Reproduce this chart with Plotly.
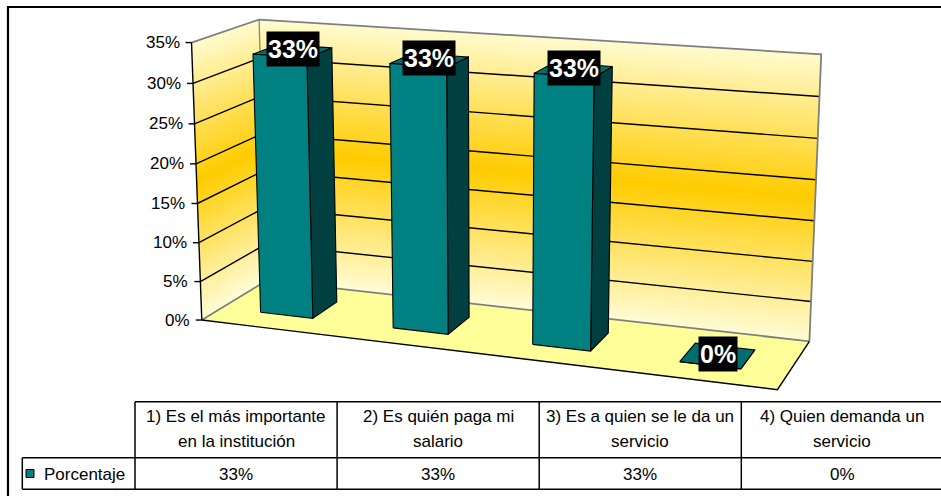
import numpy as np
import plotly.graph_objects as go

# ---------------------------------------------------------------- data
categories = [
    "1) Es el más importante\nen la institución",
    "2) Es quién paga mi\nsalario",
    "3) Es a quien se le da un\nservicio",
    "4) Quien demanda un\nservicio",
]
series_name = "Porcentaje"
values = [0.33, 0.33, 0.33, 0.0]
axis_ticks = [0.0, 0.05, 0.10, 0.15, 0.20, 0.25, 0.30, 0.35]
tick_labels = ["0%", "5%", "10%", "15%", "20%", "25%", "30%", "35%"]

# ---------------------------------------------------------------- style
W, H = 941, 496
FONT = "Liberation Sans, Arial, sans-serif"
BAR_FRONT = "#008080"
BAR_SIDE = "#004040"
BAR_TOP = "#006E6E"
FLOOR = "#FFFF99"
WALL_SCALE = [[0.0, "#FFFBCF"], [0.5, "#FFCC00"], [1.0, "#FFFCD6"]]
EDGE_GREY = "#7F7F7F"

VMAX = axis_ticks[-1]
NCAT = len(categories)
GAP_WIDTH = 1.5          # Excel gap width 150 %
BAR_W = 1.0 / (1.0 + GAP_WIDTH)
Z0, Z1 = 0.3, 0.7        # bar depth inside the floor (0 = front, 1 = back)

# world frame: x = category units, y = value, z = depth.
# The 3-D box of the plot is anchored to page pixels and a perspective
# camera is fitted to it (direct linear transform).
BOX_ANCHORS = [
    ((0, 0.00, 0), (202.7, 320.7)),
    ((0, 0.05, 0), (200.0, 281.0)),
    ((0, 0.10, 0), (199.0, 242.7)),
    ((0, 0.15, 0), (196.7, 203.3)),
    ((0, 0.20, 0), (195.7, 163.3)),
    ((0, 0.25, 0), (194.3, 124.3)),
    ((0, 0.30, 0), (193.3, 83.3)),
    ((0, 0.35, 0), (191.7, 43.3)),
    ((0, 0.35, 1), (259.3, 19.3)),
    ((4, 0.35, 1), (822.3, 54.0)),
    ((4, 0.30, 1), (818.3, 96.7)),
    ((4, 0.00, 1), (809.3, 341.7)),
    ((4, 0.00, 0), (777.7, 389.3)),
]
Y_SCALE = 10.0


def fit_camera(anchors):
    wpts = np.array([[a[0][0], a[0][1] * Y_SCALE, a[0][2]] for a in anchors], float)
    ipts = np.array([a[1] for a in anchors], float)
    mw, sw = wpts.mean(0), wpts.std()
    mi, si = ipts.mean(0), ipts.std()
    wn = (wpts - mw) / sw
    im = (ipts - mi) / si
    rows = []
    for (X, Y, Z), (u, v) in zip(wn, im):
        p = [X, Y, Z, 1.0]
        rows.append(p + [0, 0, 0, 0] + [-u * c for c in p])
        rows.append([0, 0, 0, 0] + p + [-v * c for c in p])
    _, _, vt = np.linalg.svd(np.array(rows))
    pn = vt[-1].reshape(3, 4)
    tw = np.array([[1 / sw, 0, 0, -mw[0] / sw],
                   [0, 1 / sw, 0, -mw[1] / sw],
                   [0, 0, 1 / sw, -mw[2] / sw],
                   [0, 0, 0, 1]])
    ti = np.array([[si, 0, mi[0]], [0, si, mi[1]], [0, 0, 1]])
    return ti @ pn @ tw


CAM = fit_camera(BOX_ANCHORS)


def proj(x, v, z):
    h = CAM @ np.array([x, v * Y_SCALE, z, 1.0])
    return h[0] / h[2], h[1] / h[2]


fig = go.Figure()


def polygon(pts3, fill=None, line_color=None, line_width=0.0, gradient=None):
    xy = [proj(*p) for p in pts3]
    xs = [p[0] for p in xy] + [xy[0][0]]
    ys = [p[1] for p in xy] + [xy[0][1]]
    kw = dict(x=xs, y=ys, mode="lines", fill="toself", hoverinfo="skip",
              line=dict(color=line_color or "rgba(0,0,0,0)", width=line_width))
    if gradient is not None:
        kw["fillgradient"] = gradient
    else:
        kw["fillcolor"] = fill
    fig.add_trace(go.Scatter(**kw))


def polyline(pts3, color, width):
    xy = [proj(*p) for p in pts3]
    fig.add_trace(go.Scatter(x=[p[0] for p in xy], y=[p[1] for p in xy], mode="lines",
                             hoverinfo="skip", line=dict(color=color, width=width)))


def wall_gradient(top_y, bottom_y):
    return dict(type="vertical", colorscale=WALL_SCALE, start=top_y, stop=bottom_y)


# ---------------------------------------------------------------- walls
N_BACK = 48
for k in range(N_BACK):
    xa = NCAT * k / N_BACK
    xb = min(NCAT, NCAT * (k + 1.5) / N_BACK)
    xm = 0.5 * (xa + xb)
    polygon([(xa, 0, 1), (xb, 0, 1), (xb, VMAX, 1), (xa, VMAX, 1)],
            gradient=wall_gradient(proj(xm, VMAX, 1)[1], proj(xm, 0, 1)[1]))

N_SIDE = 10
for k in range(N_SIDE):
    za = k / N_SIDE
    zb = min(1.0, (k + 1.5) / N_SIDE)
    zm = 0.5 * (za + zb)
    polygon([(0, 0, za), (0, 0, zb), (0, VMAX, zb), (0, VMAX, za)],
            gradient=wall_gradient(proj(0, VMAX, zm)[1], proj(0, 0, zm)[1]))

# floor
polygon([(0, 0, 0), (NCAT, 0, 0), (NCAT, 0, 1), (0, 0, 1)], fill=FLOOR)

# gridlines across both walls
for t in axis_ticks[1:-1]:
    polyline([(0, t, 0), (0, t, 1), (NCAT, t, 1)], "black", 1.4)

# wall borders
polyline([(0, VMAX, 0), (0, VMAX, 1), (NCAT, VMAX, 1), (NCAT, 0, 1)], EDGE_GREY, 1.8)
polyline([(0, 0, 0), (0, 0, 1), (NCAT, 0, 1)], EDGE_GREY, 1.8)
polyline([(0, 0, 1), (0, VMAX, 1)], EDGE_GREY, 1.2)
# floor front and right edges
polyline([(0, 0, 0), (NCAT, 0, 0), (NCAT, 0, 1)], "black", 1.4)

# ---------------------------------------------------------------- bars
for i, v in enumerate(values):
    x0 = i + 0.5 - BAR_W / 2
    x1 = i + 0.5 + BAR_W / 2
    polygon([(x1, 0, Z0), (x1, 0, Z1), (x1, v, Z1), (x1, v, Z0)], fill=BAR_SIDE,
            line_color="black", line_width=1.1)
    polygon([(x0, v, Z0), (x1, v, Z0), (x1, v, Z1), (x0, v, Z1)], fill=BAR_TOP,
            line_color="black", line_width=1.1)
    polygon([(x0, 0, Z0), (x1, 0, Z0), (x1, v, Z0), (x0, v, Z0)], fill=BAR_FRONT,
            line_color="black", line_width=1.1)

# ---------------------------------------------------------------- value axis
polyline([(0, 0, 0), (0, VMAX, 0)], "black", 1.4)
annotations = []
for t, lab in zip(axis_ticks, tick_labels):
    px, py = proj(0, t, 0)
    fig.add_trace(go.Scatter(x=[px - 6, px], y=[py, py], mode="lines", hoverinfo="skip",
                             line=dict(color="black", width=1.4)))
    annotations.append(dict(x=px - 10, y=py, text=lab, showarrow=False,
                            xanchor="right", yanchor="middle",
                            font=dict(family=FONT, size=17, color="black")))

# data labels centred on each bar top
for i, v in enumerate(values):
    px, py = proj(i + 0.5, v, 0.5 * (Z0 + Z1))
    annotations.append(dict(x=px, y=py - 2, text=f"<b>{v * 100:.0f}%</b>", showarrow=False,
                            xanchor="center", yanchor="middle", bgcolor="black",
                            borderpad=1, height=32, valign="middle",
                            font=dict(family=FONT, size=25, color="white")))

# ---------------------------------------------------------------- data table
TABLE_LEFT = 135.0
COL_W = 202.1
HEAD_TOP = 401.7
ROW_DIV = 457.7
TABLE_BOTTOM = 489.3
LEGEND_LEFT = 22.3

shapes = []
line = dict(color="black", width=1.5)
shapes.append(dict(type="line", x0=TABLE_LEFT, x1=W + 5, y0=HEAD_TOP, y1=HEAD_TOP, line=line))
for yy in (ROW_DIV, TABLE_BOTTOM):
    shapes.append(dict(type="line", x0=LEGEND_LEFT, x1=W + 5, y0=yy, y1=yy, line=line))
shapes.append(dict(type="line", x0=LEGEND_LEFT, x1=LEGEND_LEFT, y0=ROW_DIV, y1=TABLE_BOTTOM, line=line))
for c in range(NCAT + 1):
    xx = TABLE_LEFT + c * COL_W
    shapes.append(dict(type="line", x0=xx, x1=xx, y0=HEAD_TOP, y1=TABLE_BOTTOM, line=line))

# legend key
shapes.append(dict(type="rect", x0=26, x1=34, y0=469.5, y1=477.5,
                   fillcolor=BAR_FRONT, line=dict(color="black", width=1)))
annotations.append(dict(x=42, y=474, text=series_name, showarrow=False,
                        xanchor="left", yanchor="middle",
                        font=dict(family=FONT, size=17, color="black")))

for c, (cat, v) in enumerate(zip(categories, values)):
    cx = TABLE_LEFT + (c + 0.5) * COL_W
    for j, part in enumerate(cat.split("\n")):
        annotations.append(dict(x=cx, y=HEAD_TOP + 15 + 25 * j, text=part, showarrow=False,
                                xanchor="center", yanchor="middle",
                                font=dict(family=FONT, size=17, color="black")))
    annotations.append(dict(x=cx, y=0.5 * (ROW_DIV + TABLE_BOTTOM) + 1, text=f"{v * 100:.0f}%",
                            showarrow=False, xanchor="center", yanchor="middle",
                            font=dict(family=FONT, size=17, color="black")))

# outer chart frame
shapes.append(dict(type="rect", x0=8, y0=7, x1=W + 20, y1=H + 20,
                   line=dict(color="black", width=2.2), fillcolor="rgba(0,0,0,0)"))

fig.update_layout(
    width=W, height=H, margin=dict(l=0, r=0, t=0, b=0),
    paper_bgcolor="white", plot_bgcolor="white", showlegend=False,
    xaxis=dict(range=[0, W], visible=False, fixedrange=True),
    yaxis=dict(range=[H, 0], visible=False, fixedrange=True),
    shapes=shapes, annotations=annotations,
)

fig.write_html("out.html", config={"displayModeBar": False})
